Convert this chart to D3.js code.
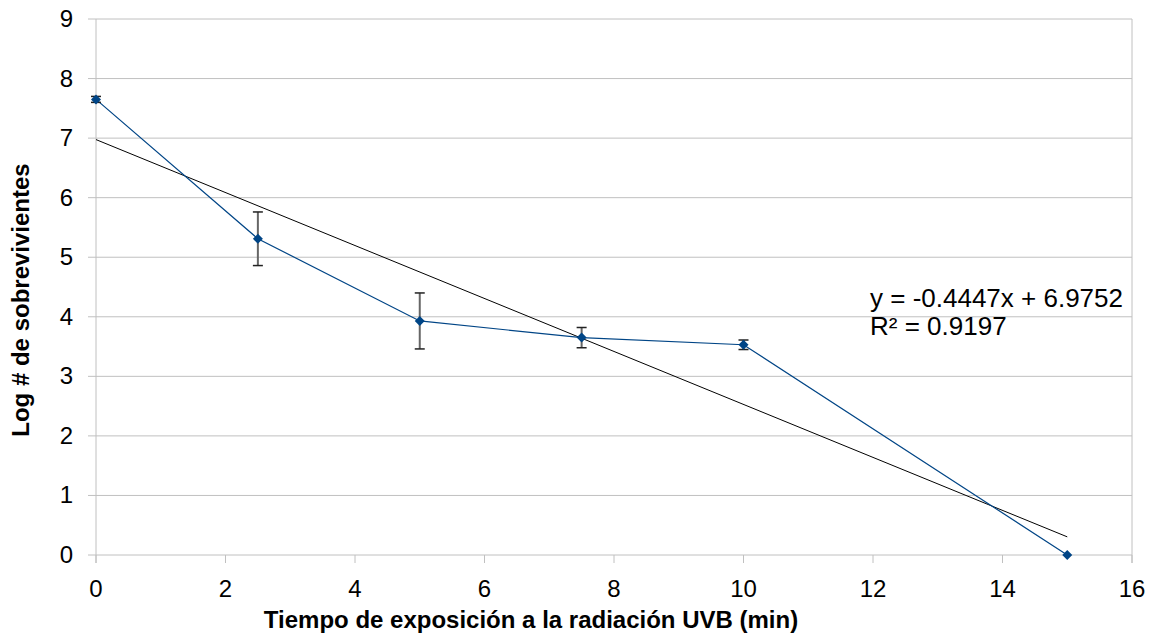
<!DOCTYPE html>
<html lang="es">
<head>
    <meta charset="UTF-8">
    <title>Log # de sobrevivientes vs tiempo UVB</title>
    <script src="https://d3js.org/d3.v7.min.js"></script>
    <style>
        body {
            margin: 0;
            background: #fff;
        }
        svg text {
            font-family: "Liberation Sans", Arial, sans-serif;
            fill: #000;
        }
        .grid line {
            stroke: #c0c0c0;
            stroke-width: 1px;
        }
    </style>
</head>
<body>
    <div id="chart"></div>
    <script>
        // data
        const tiempos = [0, 2.5, 5, 7.5, 10, 15];
        const logSobrev = [7.65, 5.31, 3.93, 3.65, 3.53, 0];
        const errores = [0.05, 0.45, 0.47, 0.17, 0.08, 0];
        const xTicks = [0, 2, 4, 6, 8, 10, 12, 14, 16];
        const yTicks = [0, 1, 2, 3, 4, 5, 6, 7, 8, 9];
        const pendiente = -0.4447, intercepto = 6.9752;
        const ecuacion = "y = -0.4447x + 6.9752";
        const r2 = "R² = 0.9197";

        const width = 1151, height = 637;
        const margin = {left: 96, right: 19, top: 19, bottom: 82};

        const svg = d3.select("#chart").append("svg")
            .attr("width", width)
            .attr("height", height);

        const x = d3.scaleLinear().domain([0, 16]).range([margin.left, width - margin.right]);
        const y = d3.scaleLinear().domain([0, 9]).range([height - margin.bottom, margin.top]);

        // horizontal gridlines
        svg.append("g").attr("class", "grid")
            .selectAll("line")
            .data(yTicks)
            .enter().append("line")
            .attr("x1", x(0) - 8)
            .attr("x2", x(16))
            .attr("y1", d => y(d))
            .attr("y2", d => y(d));

        // left & right borders, x tick marks
        const g = svg.append("g").attr("class", "grid");
        g.append("line").attr("x1", x(0)).attr("x2", x(0)).attr("y1", y(9)).attr("y2", y(0) + 8);
        g.append("line").attr("x1", x(16)).attr("x2", x(16)).attr("y1", y(9)).attr("y2", y(0) + 8);
        g.selectAll(".xt").data(xTicks).enter().append("line")
            .attr("x1", d => x(d)).attr("x2", d => x(d))
            .attr("y1", y(0)).attr("y2", y(0) + 8);

        // tick labels
        svg.append("g").selectAll("text")
            .data(yTicks)
            .enter().append("text")
            .attr("x", 73)
            .attr("y", d => y(d) + 8)
            .attr("text-anchor", "end")
            .style("font-size", "24px")
            .text(d => d);

        svg.append("g").selectAll("text")
            .data(xTicks)
            .enter().append("text")
            .attr("x", d => x(d))
            .attr("y", 597)
            .attr("text-anchor", "middle")
            .style("font-size", "24px")
            .text(d => d);

        // axis titles
        svg.append("text")
            .attr("x", 531)
            .attr("y", 628)
            .attr("text-anchor", "middle")
            .style("font-size", "24px")
            .style("font-weight", "bold")
            .text("Tiempo de exposición a la radiación UVB (min)");

        svg.append("text")
            .attr("transform", `translate(29, 300) rotate(-90)`)
            .attr("text-anchor", "middle")
            .style("font-size", "24px")
            .style("font-weight", "bold")
            .text("Log # de sobrevivientes");

        // trend line
        svg.append("line")
            .attr("x1", x(0)).attr("y1", y(intercepto))
            .attr("x2", x(15)).attr("y2", y(intercepto + pendiente * 15))
            .attr("stroke", "#000")
            .attr("stroke-width", 1);

        const pts = tiempos.map((t, i) => ({t, v: logSobrev[i], e: errores[i]}));

        // series line
        svg.append("path")
            .datum(pts)
            .attr("fill", "none")
            .attr("stroke", "#004586")
            .attr("stroke-width", 1.2)
            .attr("d", d3.line().x(d => x(d.t)).y(d => y(d.v)));

        // error bars
        const eb = svg.append("g").selectAll("g")
            .data(pts.filter(d => d.e > 0))
            .enter().append("g");
        eb.append("line")
            .attr("x1", d => x(d.t)).attr("x2", d => x(d.t))
            .attr("y1", d => y(d.v + d.e)).attr("y2", d => y(d.v - d.e))
            .attr("stroke", "#666").attr("stroke-width", 2);
        eb.selectAll(".cap")
            .data(d => [[d.t, d.v + d.e], [d.t, d.v - d.e]])
            .enter().append("line")
            .attr("x1", d => x(d[0]) - 5).attr("x2", d => x(d[0]) + 5)
            .attr("y1", d => y(d[1])).attr("y2", d => y(d[1]))
            .attr("stroke", "#222").attr("stroke-width", 1.5);

        // diamond markers
        svg.append("g").selectAll("path")
            .data(pts)
            .enter().append("path")
            .attr("transform", d => `translate(${x(d.t)},${y(d.v)})`)
            .attr("d", "M0,-5L5,0L0,5L-5,0Z")
            .attr("fill", "#004586");

        // equation
        svg.append("text")
            .attr("x", 870).attr("y", 307)
            .style("font-size", "26px")
            .text(ecuacion);
        svg.append("text")
            .attr("x", 870).attr("y", 335)
            .style("font-size", "26px")
            .text(r2);
    </script>
</body>
</html>
